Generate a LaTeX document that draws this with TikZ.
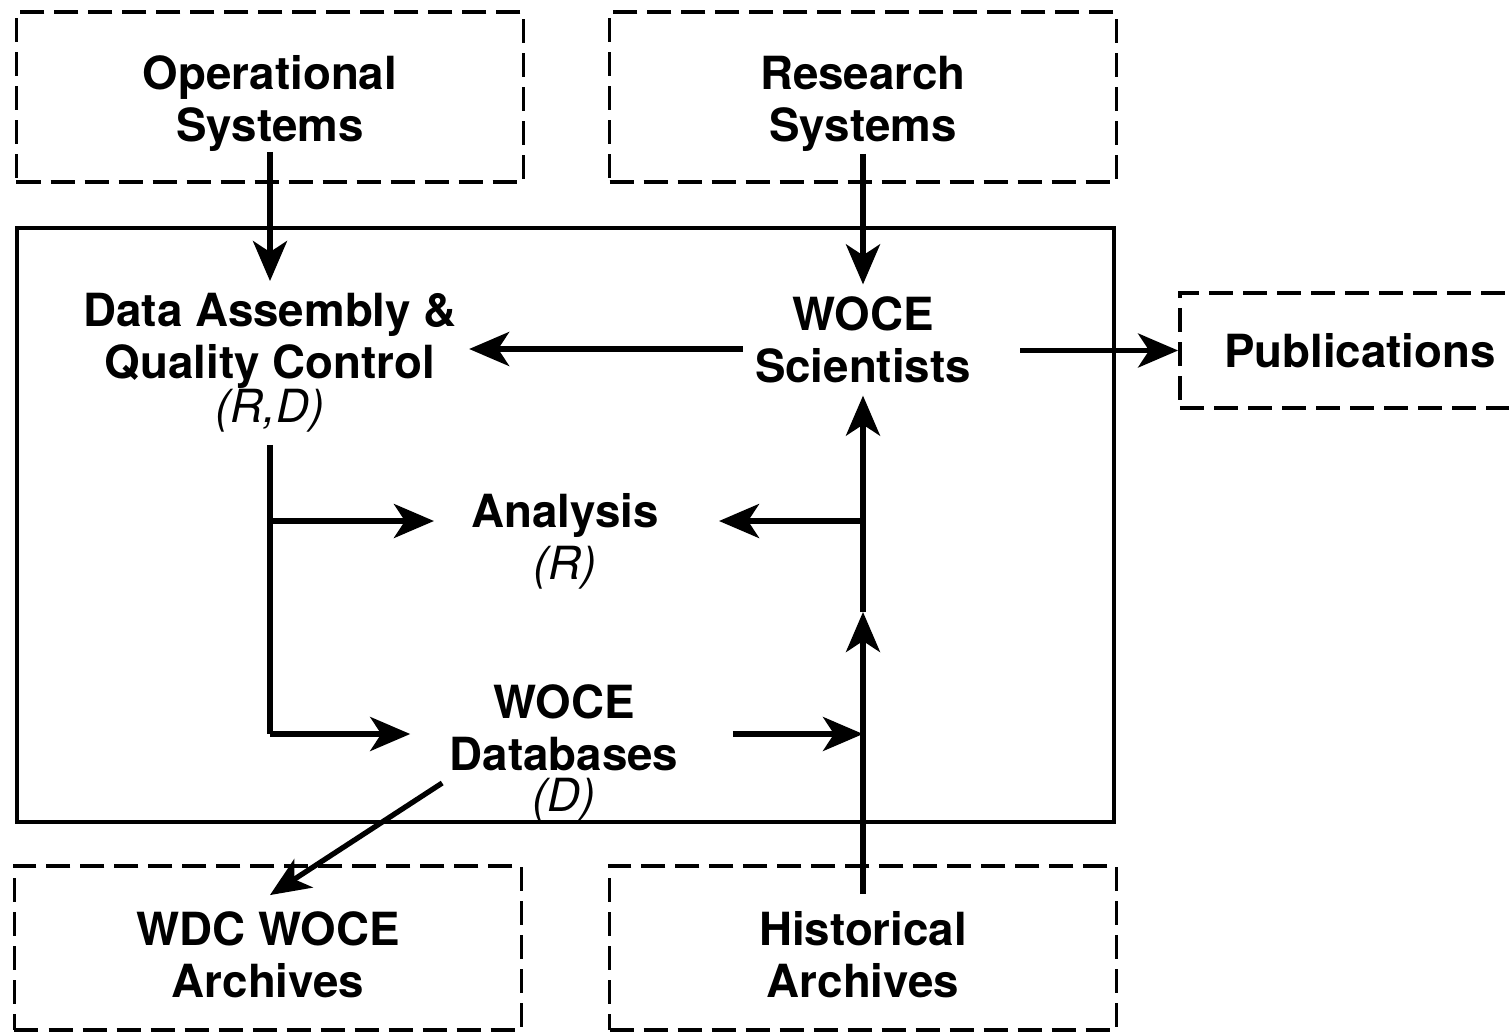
\documentclass[tikz,border=0pt]{standalone}
\usepackage{fontspec}
\setmainfont{TeX Gyre Heros}
\usetikzlibrary{positioning,calc,arrows.meta}

\newcommand{\toppad}{\rule{0pt}{0.47cm}}

\begin{document}
\begin{tikzpicture}[
    every node/.style={font=\fontsize{13}{14.8}\selectfont\bfseries, align=center},
    dbox/.style={draw, line width=1.1pt, dash pattern=on 0.24cm off 0.1cm, minimum width=5.07cm, minimum height=1.7cm},
    flow/.style={line width=1.5pt, -{Stealth[length=0.40cm, width=0.34cm, inset=0.11cm]}},
    wire/.style={line width=1.5pt}
]
    \useasboundingbox (0,0) rectangle (15.09,10.32);
    \clip (0,0) rectangle (15.09,10.32);

    % Main Frame
    \draw[line width=0.9pt] (0.17,2.10) rectangle (11.14,8.04);

    % Outer Boxes
    \node[dbox] (ops) at (2.70,9.35) {\toppad Operational\\Systems};
    \node[dbox] (res) at (8.63,9.35) {\toppad Research\\Systems};
    \node[dbox, minimum height=1.64cm] (wdc) at (2.68,0.84) {\toppad WDC WOCE\\Archives};
    \node[dbox, minimum height=1.64cm] (hist) at (8.63,0.84) {\toppad Historical\\Archives};
    \node[dbox, minimum width=3.6cm, minimum height=1.15cm] (pub) at (13.60,6.815) {Publications};

    % Inner Nodes
    \node (dac) at (2.70,6.69) {Data Assembly \&\\Quality Control\\[-0.08cm]{\mdseries\itshape (R,D)\hspace{0.15cm}}};
    \node (sci) at (8.63,6.92) {WOCE\\Scientists};
    \node (ana) at (5.65,4.91) {Analysis\\{\mdseries\itshape (R)}};
    \node (db) at (5.64,2.79) {WOCE\\Databases\\[-0.11cm]{\mdseries\itshape (D)}};

    % Junctions
    \coordinate (jA) at (2.70,5.11);
    \coordinate (jB) at (2.70,2.98);
    \coordinate (jC) at (8.63,5.11);
    \coordinate (jM) at (8.63,4.20);
    \coordinate (jD) at (8.63,2.98);

    % Inputs
    \draw[flow] ([yshift=0.32cm]ops.south) -- (dac.north);
    \draw[flow] ([yshift=0.30cm]res.south) -- (sci.north);

    % Scientists outputs
    \draw[flow] ($(sci.west)+(0,-0.09)$) -- ($(sci.west -| dac.east)+(0,-0.09)$);
    \draw[flow] ($(sci.east |- pub.west)+(0.37,0)$) -- (pub.west);

    % Data Assembly branches
    \draw[wire] (dac.south) -- (jB);
    \draw[flow] (jA) -- ($(jA -| ana.west)+(-0.25,0)$);
    \draw[flow] (jB) -- ($(jB -| db.west)+(-0.27,0)$);

    % Historical line
    \draw[flow] ([yshift=-0.30cm]hist.north) -- (jM);
    \draw[flow] (jM) -- (sci.south);
    \draw[flow] (jC) -- ($(jC -| ana.east)+(0.48,0)$);
    \draw[flow] ($(jD -| db.east)+(0.42,0)$) -- (jD);

    % Archive output
    \draw[flow] ($(db.west)+(0.05,-0.30)$) -- ($(wdc.north)+(0.02,-0.31)$);
\end{tikzpicture}
\end{document}
